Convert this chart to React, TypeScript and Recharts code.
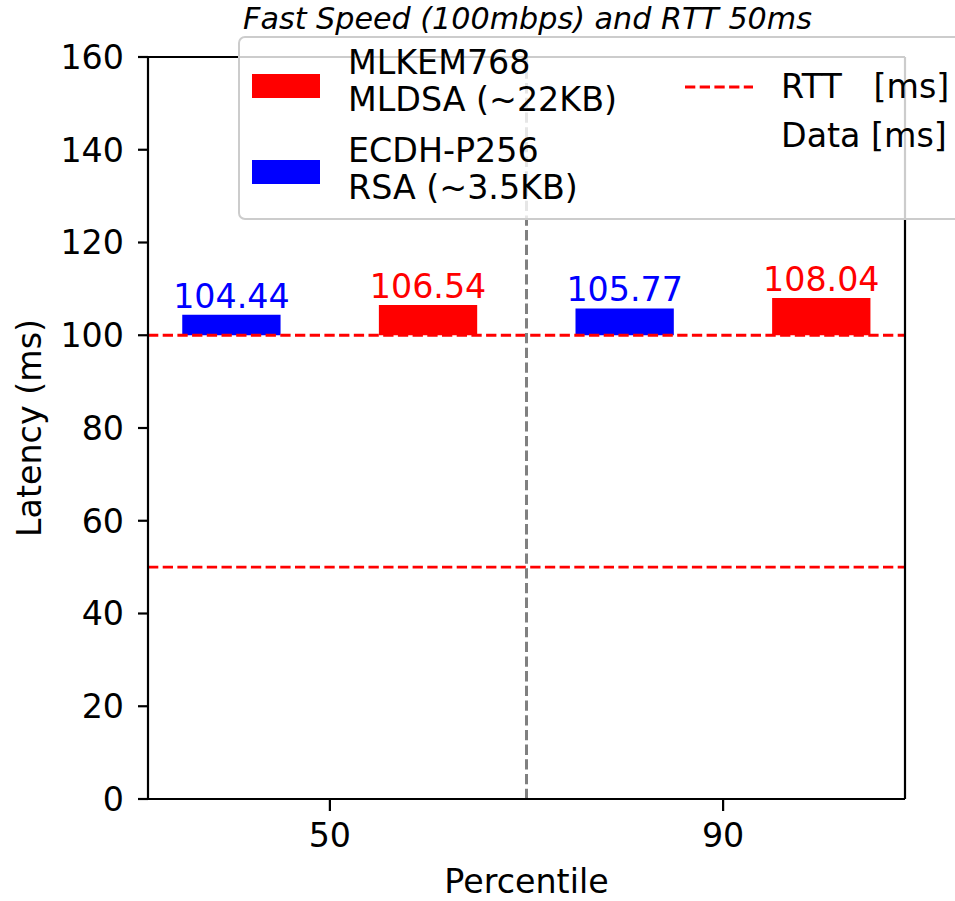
import React from 'react';
import { BarChart, Bar, XAxis, YAxis, ReferenceLine, Cell, LabelList, Legend, Label } from 'recharts';

const TITLE = 'Fast Speed (100mbps) and RTT 50ms';
const X_LABEL = 'Percentile';
const Y_LABEL = 'Latency (ms)';
const percentiles = ['50', '90'];
const ecdhRsaLatency = [104.44, 105.77];
const mlkemMldsaLatency = [106.54, 108.04];
const rttLines = [50, 100];
const yTicks = [0, 20, 40, 60, 80, 100, 120, 140, 160];
const ecdhLegend = ['ECDH-P256', 'RSA (~3.5KB)'];
const mlkemLegend = ['MLKEM768', 'MLDSA (~22KB)'];
const rttLegend = 'RTT   [ms]';
const dataLegend = 'Data [ms]';

const FONT = '"DejaVu Sans", sans-serif';
const FS = 33.3;
const RED = '#ff0000';
const BLUE = '#0000ff';
const BAR_OFFSET = 0.25;
const X_DOMAIN: [number, number] = [-0.4625, 1.4625];
const barBase = rttLines[1];

const seriesColor: Record<string, string> = { ecdh: BLUE, mlkem: RED };

const rows = percentiles.flatMap((p, i) => [
  { pos: i - BAR_OFFSET, series: 'ecdh', value: ecdhRsaLatency[i], range: [barBase, ecdhRsaLatency[i]] },
  { pos: i + BAR_OFFSET, series: 'mlkem', value: mlkemMldsaLatency[i], range: [barBase, mlkemMldsaLatency[i]] },
]);

const W = 955;
const H = 901;
const MARGIN = { top: 56, right: 49, bottom: 0, left: 0 };
const Y_AXIS_W = 148;
const X_AXIS_H = 102;
const plotW = W - 50 - Y_AXIS_W;
const barPx = (BAR_OFFSET * plotW) / (X_DOMAIN[1] - X_DOMAIN[0]);

const TitleLabel = (props: any) => {
  const vb = props.viewBox || {};
  return (
    <text x={vb.x + vb.width / 2 + 1} y={28.5} textAnchor="middle" fontFamily={FONT} fontStyle="italic" fontSize={30.2} fill="#000">
      {TITLE}
    </text>
  );
};

const XLabel = (props: any) => {
  const vb = props.viewBox || {};
  return (
    <text x={vb.x + vb.width / 2} y={vb.y + vb.height - 8} textAnchor="middle" fontFamily={FONT} fontSize={FS} fill="#000">
      {X_LABEL}
    </text>
  );
};

const YLabel = (props: any) => {
  const vb = props.viewBox || {};
  const cy = vb.y + vb.height / 2;
  const x = 41;
  return (
    <text x={x} y={cy} transform={`rotate(-90 ${x} ${cy})`} textAnchor="middle" fontFamily={FONT} fontSize={FS} fill="#000">
      {Y_LABEL}
    </text>
  );
};

const ValueLabel = (props: any) => {
  const { x, y, width, value, index } = props;
  const color = seriesColor[rows[index].series];
  return (
    <text x={x + width / 2} y={y - 7} textAnchor="middle" fontFamily={FONT} fontSize={FS} fill={color}>
      {Number(value).toFixed(2)}
    </text>
  );
};

const LegendBox = () => {
  return (
    <svg width={W - 238} height={186} style={{ display: 'block', overflow: 'hidden' }} fontFamily={FONT}>
      <rect x={1} y={1} width={800} height={182} rx={6} ry={6} fill="#ffffff" fillOpacity={0.8} stroke="#cccccc" strokeWidth={2} />
      <rect x={14} y={38} width={68} height={24} fill={RED} />
      <text x={110} y={38} fontSize={FS} fill="#000">{mlkemLegend[0]}</text>
      <text x={110} y={75} fontSize={FS} fill="#000">{mlkemLegend[1]}</text>
      <rect x={14} y={124} width={68} height={24} fill={BLUE} />
      <text x={110} y={126} fontSize={FS} fill="#000">{ecdhLegend[0]}</text>
      <text x={110} y={163} fontSize={FS} fill="#000">{ecdhLegend[1]}</text>
      <line x1={447} x2={515} y1={51} y2={51} stroke={RED} strokeWidth={2.8} strokeDasharray="10.3 4.4" />
      <text x={543} y={62} fontSize={FS} fill="#000" style={{ whiteSpace: 'pre' }} xmlSpace="preserve">{rttLegend}</text>
      <text x={543} y={111} fontSize={FS} fill="#000">{dataLegend}</text>
    </svg>
  );
};

export default function App() {
  const axisLine = { stroke: '#000', strokeWidth: 2.2 };
  const tickStyle = { fill: '#000', fontSize: FS, fontFamily: FONT };
  return (
    <div style={{ position: 'absolute', left: 0, top: 0, width: W, height: H, overflow: 'hidden', background: '#fff' }}>
      <BarChart width={W} height={H} data={rows} margin={MARGIN}>
        <XAxis
          xAxisId="top"
          orientation="top"
          type="number"
          dataKey="pos"
          domain={X_DOMAIN}
          allowDataOverflow
          height={1}
          tick={false}
          tickLine={false}
          axisLine={axisLine}
        >
          <Label content={TitleLabel} />
        </XAxis>
        <XAxis
          type="number"
          dataKey="pos"
          domain={X_DOMAIN}
          allowDataOverflow
          ticks={[0, 1]}
          tickFormatter={(v: number) => percentiles[v] ?? ''}
          height={X_AXIS_H}
          tickSize={12}
          tickMargin={12}
          tick={tickStyle}
          tickLine={axisLine}
          axisLine={axisLine}
        >
          <Label content={XLabel} />
        </XAxis>
        <YAxis
          domain={[0, 160]}
          ticks={yTicks}
          width={Y_AXIS_W}
          tickSize={10}
          tickMargin={14}
          tick={tickStyle}
          tickLine={axisLine}
          axisLine={axisLine}
          interval={0}
        >
          <Label content={YLabel} />
        </YAxis>
        <YAxis
          yAxisId="right"
          orientation="right"
          domain={[0, 160]}
          width={1}
          tick={false}
          tickLine={false}
          axisLine={axisLine}
        />
        <Bar dataKey="range" barSize={barPx} isAnimationActive={false}>
          {rows.map((r, i) => (
            <Cell key={i} fill={seriesColor[r.series]} />
          ))}
          <LabelList dataKey="value" content={ValueLabel} />
        </Bar>
        {rttLines.map((v) => (
          <ReferenceLine key={v} y={v} stroke={RED} strokeWidth={2.8} strokeDasharray="10.3 4.4" />
        ))}
        <ReferenceLine x={0.5} stroke="#808080" strokeWidth={3} strokeDasharray="10.3 4.4" />
        <Legend
          layout="vertical"
          align="center"
          verticalAlign="middle"
          content={LegendBox}
          wrapperStyle={{ position: 'absolute', left: 238, top: 36, width: W - 238, height: 186 }}
        />
      </BarChart>
    </div>
  );
}
